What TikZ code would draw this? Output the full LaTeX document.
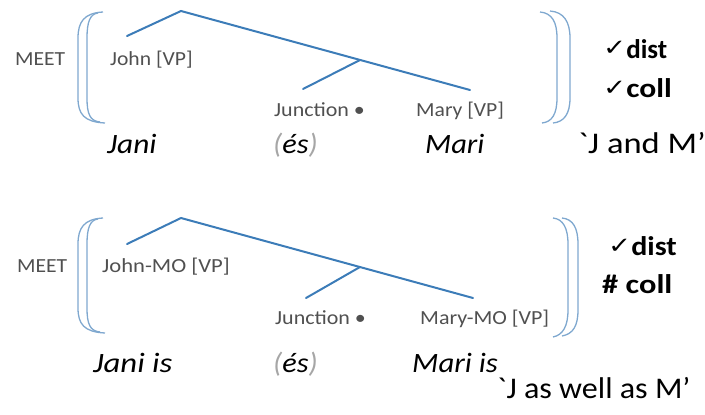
\documentclass[tikz,border=0pt]{standalone}
\usepackage{fontspec}
\usepackage{graphicx}
\setmainfont{Carlito}[Ligatures=TeXOff]
\newfontfamily\symfont{DejaVu Sans}
\definecolor{treeblue}{HTML}{3C7CB8}
\definecolor{brblue}{HTML}{7FA8CF}
\definecolor{lblgray}{HTML}{505050}
\definecolor{pargray}{HTML}{A6A6A6}
\tikzset{
  tree/.style={draw=treeblue, line width=2pt, line cap=round},
  brk/.style={draw=brblue, line width=1.3pt},
  small/.style={inner sep=0pt, anchor=base west, text=lblgray, font=\fontsize{20}{22}\selectfont},
  ital/.style={inner sep=0pt, anchor=base west, font=\fontsize{28}{30}\selectfont\itshape},
  gloss/.style={inner sep=0pt, anchor=base west, font=\fontsize{30}{32}\selectfont},
  judg/.style={inner sep=0pt, anchor=base west, font=\fontsize{27}{30}\selectfont\bfseries},
}
\newcommand{\sx}[2]{\scalebox{#1}[1]{#2}}
\newcommand{\chk}{{\symfont\fontsize{24}{24}\selectfont\raisebox{2pt}{\scalebox{1.15}[0.95]{✓}}}}
\begin{document}
\begin{tikzpicture}[x=1pt,y=-1pt]
\useasboundingbox (0,0) rectangle (705,415);
% ---------- top diagram ----------
\coordinate (r1) at (181,11);
\coordinate (l1) at (127,36);
\coordinate (j1) at (360,60);
\coordinate (b1) at (303,89);
\coordinate (m1) at (470,90);
\draw[tree] (l1) -- (r1) -- (m1);
\draw[tree] (j1) -- (b1);
% left bracket
\draw[brk] (103,12) .. controls (84,13) and (78,22) .. (78,38) -- (78,98) .. controls (78,114) and (84,122) .. (105,123);
\draw[brk] (98,13) .. controls (90,14) and (87,22) .. (87,38) -- (87,98) .. controls (87,114) and (90,121) .. (100,122);
% right bracket
\draw[brk] (540,12) .. controls (552,13) and (557,22) .. (557,38) -- (557,98) .. controls (557,114) and (552,122) .. (542,123);
\draw[brk] (550,11) .. controls (564,12) and (570,22) .. (570,38) -- (570,98) .. controls (570,114) and (564,122) .. (553,123);
\node[small] (meet1) at (15,65) {\sx{1.08}{MEET}};
\node[small] (john1) at (110,65) {\sx{1.08}{John [VP]}};
\node[small] (junc1) at (274,116) {\sx{1.1}{Junction •}};
\node[small] (mary1) at (416,116) {\sx{1.08}{Mary [VP]}};
\node[judg] (dist1) at (603,58) {\chk\sx{1.0}{dist}};
\node[judg] (coll1) at (603,97) {\chk\sx{1.17}{coll}};
\node[ital] (jani1) at (107,153) {\sx{1.12}{Jani}};
\node[ital] (es1) at (273,153) {\sx{1.08}{\textcolor{pargray}{(}és\textcolor{pargray}{)}}};
\node[ital] (mari1) at (425,153) {\sx{1.09}{Mari}};
\node[gloss] (gl1) at (578,153) {\sx{1.15}{`J and M’}};
% ---------- bottom diagram ----------
\coordinate (r2) at (181,218);
\coordinate (l2) at (127,244);
\coordinate (j2) at (360,267);
\coordinate (b2) at (306,298);
\coordinate (m2) at (473,298);
\draw[tree] (l2) -- (r2) -- (m2);
\draw[tree] (j2) -- (b2);
% left bracket
\draw[brk] (103,218) .. controls (84,219) and (78,228) .. (78,244) -- (78,308) .. controls (78,324) and (84,332) .. (105,333);
\draw[brk] (98,219) .. controls (90,220) and (87,228) .. (87,244) -- (87,308) .. controls (87,324) and (90,331) .. (100,332);
% right bracket
\draw[brk] (553,218) .. controls (563,219) and (568,228) .. (568,244) -- (568,310) .. controls (568,326) and (563,335) .. (553,337);
\draw[brk] (562,218) .. controls (573,219) and (578,228) .. (578,244) -- (578,310) .. controls (578,326) and (573,334) .. (562,336);
\node[small] (meet2) at (17,272) {\sx{1.08}{MEET}};
\node[small] (john2) at (102,272) {\sx{1.13}{John-MO [VP]}};
\node[small] (junc2) at (275,324) {\sx{1.1}{Junction •}};
\node[small] (mary2) at (420,324) {\sx{1.1}{Mary-MO [VP]}};
\node[judg] (dist2) at (608,255) {\chk\sx{1.11}{dist}};
\node[judg] (coll2) at (602,293) {\sx{1.2}{\# coll}};
\node[ital] (jani2) at (93,372) {\sx{1.17}{Jani is}};
\node[ital] (es2) at (273,372) {\sx{1.08}{\textcolor{pargray}{(}és\textcolor{pargray}{)}}};
\node[ital] (mari2) at (412,372) {\sx{1.1}{Mari is}};
\node[gloss] (gl2) at (497,398) {\sx{1.07}{`J as well as M’}};
\end{tikzpicture}
\end{document}
